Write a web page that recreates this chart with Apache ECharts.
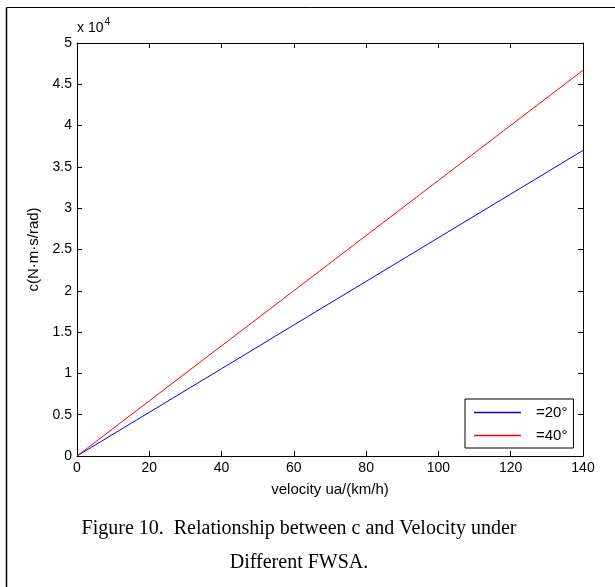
<!DOCTYPE html>
<html><head><meta charset="utf-8">
<script src="https://cdn.jsdelivr.net/npm/echarts@6/dist/echarts.min.js"></script>
<style>html,body{margin:0;padding:0;background:#fff}#c{width:615px;height:587px}</style>
</head><body><div id="c"></div>
<script>
const velocity = [0, 20, 40, 60, 80, 100, 120, 140];
const c20 = [0, 5290, 10570, 15860, 21140, 26430, 31710, 37000];
const c40 = [0, 6670, 13340, 20010, 26690, 33360, 40030, 46700];
const seriesNames = ['=20°', '=40°'];
const seriesColors = ['#0000ff', '#ff0000'];
const yTicks = [0, 0.5, 1, 1.5, 2, 2.5, 3, 3.5, 4, 4.5, 5];
const caption1 = 'Figure 10.  Relationship between c and Velocity under';
const caption2 = 'Different FWSA.';

const chart = echarts.init(document.getElementById('c'));
const font = 'Liberation Sans, Arial, sans-serif';
function axisCommon() {
  return {
    axisLine: {show: true, onZero: false, lineStyle: {color: '#000', width: 1}},
    axisTick: {show: true, inside: true, length: 5, lineStyle: {color: '#000'}},
    splitLine: {show: false}
  };
}
chart.setOption({
  animation: false,
  grid: {left: 77, top: 43, right: 32, bottom: 131, show: false},
  xAxis: [
    Object.assign({type: 'value', min: 0, max: 140, interval: 20, position: 'bottom',
      name: 'velocity ua/(km/h)', nameLocation: 'middle', nameGap: 26,
      nameTextStyle: {fontFamily: font, fontSize: 15, color: '#000'},
      axisLabel: {fontFamily: font, fontSize: 14, color: '#000', margin: 5}}, axisCommon()),
    Object.assign({type: 'value', min: 0, max: 140, interval: 20, position: 'top',
      axisLabel: {show: false}}, axisCommon())
  ],
  yAxis: [
    Object.assign({type: 'value', min: 0, max: 50000, interval: 5000, position: 'left',
      name: 'c(N·m·s/rad)', nameLocation: 'middle', nameGap: 34,
      nameTextStyle: {fontFamily: font, fontSize: 15, color: '#000'},
      axisLabel: {fontFamily: font, fontSize: 14, color: '#000', margin: 5,
        formatter: v => { const t = v / 10000; return yTicks.includes(t) ? String(t) : ''; }}}, axisCommon()),
    Object.assign({type: 'value', min: 0, max: 50000, interval: 5000, position: 'right',
      axisLabel: {show: false}}, axisCommon())
  ],
  legend: {
    data: seriesNames.map((n, i) => ({name: n, itemStyle: {color: seriesColors[i], borderWidth: 0}})),
    orient: 'vertical',
    left: 465, top: 399,
    padding: [6, 6, 5, 9],
    itemGap: 8,
    itemWidth: 47, itemHeight: 1.4,
    icon: 'rect',
    borderColor: '#000', borderWidth: 1, borderRadius: 0,
    backgroundColor: '#fff',
    textStyle: {fontFamily: font, fontSize: 15, color: '#000', padding: [0, 0, 0, 10]}
  },
  series: [
    {name: seriesNames[0], type: 'line', data: velocity.map((v, i) => [v, c20[i]]),
      showSymbol: false, lineStyle: {color: seriesColors[0], width: 1}, itemStyle: {color: seriesColors[0]}},
    {name: seriesNames[1], type: 'line', data: velocity.map((v, i) => [v, c40[i]]),
      showSymbol: false, lineStyle: {color: seriesColors[1], width: 1}, itemStyle: {color: seriesColors[1]}}
  ],
  graphic: [
    {type: 'line', shape: {x1: 6.5, y1: 7.5, x2: 615, y2: 7.5}, style: {stroke: '#000', lineWidth: 1}},
    {type: 'line', shape: {x1: 6.5, y1: 7.5, x2: 6.5, y2: 587}, style: {stroke: '#000', lineWidth: 1.5}},
    {type: 'text', left: 77, top: 17, style: {
      text: '{a|x 10}{b|4}', rich: {
        a: {fontFamily: font, fontSize: 14, fill: '#000', verticalAlign: 'bottom', lineHeight: 18},
        b: {fontFamily: font, fontSize: 10, fill: '#000', verticalAlign: 'top', padding: [0, 0, 9, 1], lineHeight: 18}
      }}},
    {type: 'text', x: 299, y: 529, style: {text: caption1, font: '20px "Liberation Serif", "Times New Roman", serif',
      fill: '#000', textAlign: 'center', textVerticalAlign: 'middle'}},
    {type: 'text', x: 299, y: 563, style: {text: caption2, font: '20px "Liberation Serif", "Times New Roman", serif',
      fill: '#000', textAlign: 'center', textVerticalAlign: 'middle'}}
  ]
});
</script></body></html>
